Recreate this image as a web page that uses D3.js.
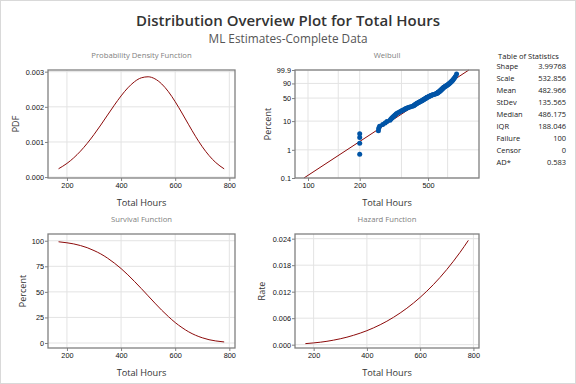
<!DOCTYPE html>
<html>
<head>
<meta charset="utf-8">
<script src="https://cdn.jsdelivr.net/npm/d3@7"></script>
<style>
body { margin: 0; background: #fff; }
svg { display: block; font-family: "Segoe UI", "Open Sans", sans-serif; }
</style>
</head>
<body>
<svg id="chart" width="576" height="384"></svg>
<script>
// fitted curves at regular hours
var curveHours = [169, 200, 225, 250, 275, 300, 325, 350, 375, 400, 425, 450, 475,
    500, 525, 550, 575, 600, 625, 650, 675, 700, 725, 750, 781];
var pdfValues = [0.000237, 0.000389, 0.000547, 0.000738, 0.000961, 0.001211, 0.001482,
    0.001765, 0.002046, 0.002310, 0.002540, 0.002717, 0.002826, 0.002855, 0.002797,
    0.002652, 0.002430, 0.002146, 0.001824, 0.001488, 0.001161, 0.000865, 0.000614,
    0.000413, 0.000234];
var survivalPct = [99.0, 98.0, 96.9, 95.3, 93.2, 90.4, 87.1, 83.0, 78.2, 72.8, 66.7, 60.1,
    53.2, 46.1, 39.0, 32.1, 25.8, 20.0, 15.1, 10.9, 7.6, 5.1, 3.2, 2.0, 1.0];
var hazardRate = [0.00024, 0.00040, 0.00056, 0.00077, 0.00103, 0.00134, 0.00170, 0.00213,
    0.00262, 0.00317, 0.00381, 0.00452, 0.00531, 0.00620, 0.00718, 0.00825, 0.00943,
    0.01071, 0.01211, 0.01362, 0.01525, 0.01701, 0.01890, 0.02092, 0.02362];

// the 100 failure times (sorted), estimated from the probability plot
var failureHours = [200, 200, 200, 200, 257, 258, 261, 272, 281, 288,
    300, 304, 308, 312, 316, 320, 324, 327, 332, 339,
    345, 351, 356, 362, 367, 372, 378, 384, 392, 401,
    409, 414, 417, 421, 425, 428, 432, 437, 441, 445,
    450, 455, 459, 463, 466, 470, 474, 478, 482, 485,
    488, 491, 495, 500, 505, 510, 515, 520, 524, 531,
    539, 547, 554, 561, 565, 568, 571, 575, 578, 582,
    585, 588, 591, 593, 596, 599, 602, 605, 608, 611,
    613, 618, 623, 628, 633, 639, 645, 651, 657, 662,
    667, 673, 679, 685, 691, 698, 704, 712, 721, 733];

// ends of the fitted Weibull line on the probability plot
var fitHours = [94.7, 864.4];
var fitPct = [0.1, 99.9];

var statNames = ["Shape", "Scale", "Mean", "StDev", "Median", "IQR", "Failure", "Censor", "AD*"];
var statValues = ["3.99768", "532.856", "482.966", "135.565", "486.175", "188.046", "100", "0", "0.583"];

var hourTicks = [200, 400, 600, 800];
var pdfTicks = [0, 0.001, 0.002, 0.003];
var survTicks = [0, 25, 50, 75, 100];
var hazTicks = [0, 0.006, 0.012, 0.018, 0.024];
var wblXTicks = [100, 200, 500];
var wblXGrid = [100, 150, 200, 350, 500, 650];
var wblYTicks = [0.1, 1, 10, 50, 90, 99.9];

var svg = d3.select("#chart");
var red = "#8c0a0a", blue = "#0054a6";

svg.append("rect").attr("x", 0.5).attr("y", 0.5).attr("width", 575).attr("height", 383)
    .attr("fill", "#fff").attr("stroke", "#d9d9d9");

svg.append("text").attr("x", 288).attr("y", 26).attr("text-anchor", "middle")
    .attr("font-size", 15).attr("font-weight", 600).attr("fill", "#333")
    .text("Distribution Overview Plot for Total Hours");
svg.append("text").attr("x", 288).attr("y", 43).attr("text-anchor", "middle")
    .attr("font-size", 11.8).attr("fill", "#555")
    .text("ML Estimates-Complete Data");

function panel(o) {
    var g = svg.append("g");
    var x0 = o.x.range()[0], x1 = o.x.range()[1];
    var yb = o.y.range()[0], yt = o.y.range()[1];

    g.selectAll(".gx").data(o.xGrid).enter().append("line")
        .attr("x1", d => o.x(d)).attr("x2", d => o.x(d)).attr("y1", yt).attr("y2", yb)
        .attr("stroke", "#e3e3e3");
    g.selectAll(".gy").data(o.yGrid).enter().append("line")
        .attr("y1", d => o.y(d)).attr("y2", d => o.y(d)).attr("x1", x0).attr("x2", x1)
        .attr("stroke", "#e3e3e3");

    var ax = g.append("g").attr("transform", "translate(0," + yb + ")")
        .call(d3.axisBottom(o.x).tickValues(o.xTicks).tickFormat(o.xFmt).tickSize(3).tickPadding(2));
    var ay = g.append("g").attr("transform", "translate(" + x0 + ",0)")
        .call(d3.axisLeft(o.y).tickValues(o.yTicks).tickFormat(o.yFmt).tickSize(3).tickPadding(1));
    [ax, ay].forEach(function (a) {
        a.select(".domain").remove();
        a.selectAll("line").attr("stroke", "#808080");
        a.selectAll("text").attr("font-size", 7.3).attr("fill", "#111").attr("font-family", null);
    });

    o.draw(g);

    g.append("rect").attr("x", x0).attr("y", yt).attr("width", x1 - x0).attr("height", yb - yt)
        .attr("fill", "none").attr("stroke", "#808080").attr("stroke-width", 1.3);

    g.append("text").attr("x", (x0 + x1) / 2).attr("y", yt - 12).attr("text-anchor", "middle")
        .attr("font-size", 7.7).attr("fill", "#808080").text(o.title);
    g.append("text").attr("x", (x0 + x1) / 2).attr("y", yb + 28).attr("text-anchor", "middle")
        .attr("font-size", 9.2).attr("fill", "#333").text("Total Hours");
    g.append("text").attr("transform", "translate(" + (x0 - o.ylabOff) + "," + (yt + yb) / 2 + ") rotate(-90)")
        .attr("text-anchor", "middle").attr("dy", "0.35em")
        .attr("font-size", 9).attr("fill", "#333").text(o.ylab);
}

function fitCurve(g, x, y, vals) {
    g.append("path").datum(curveHours)
        .attr("d", d3.line().x(d => x(d)).y((d, i) => y(vals[i])).curve(d3.curveMonotoneX))
        .attr("fill", "none").attr("stroke", red).attr("stroke-width", 1);
}

var xL = d3.scaleLinear().domain([130, 821]).range([48, 235]);
var xR = d3.scaleLinear().domain([130, 821]).range([295, 479]);

// PDF
var yPdf = d3.scaleLinear().domain([-0.000026, 0.003048]).range([178, 70]);
panel({
    x: xL, y: yPdf, xTicks: hourTicks, xGrid: hourTicks, yTicks: pdfTicks, yGrid: pdfTicks,
    xFmt: d3.format("d"), yFmt: d3.format(".3f"),
    title: "Probability Density Function", ylab: "PDF", ylabOff: 32,
    draw: g => fitCurve(g, xL, yPdf, pdfValues)
});

// Weibull probability plot
var u = p => Math.log(-Math.log(1 - p / 100));
var xW = d3.scaleLog().domain([84, 990]).range([295, 479]);
var yW = d3.scaleLinear().domain([u(0.1), u(99.9)]).range([178, 70]);
var n = failureHours.length;
panel({
    x: xW, y: yW, xTicks: wblXTicks, xGrid: wblXGrid,
    yTicks: wblYTicks.map(u), yGrid: wblYTicks.map(u),
    xFmt: d3.format("d"), yFmt: (d, i) => wblYTicks[i],
    title: "Weibull", ylab: "Percent", ylabOff: 27,
    draw: function (g) {
        g.append("path").datum(fitHours)
            .attr("d", d3.line().x(d => xW(d)).y((d, i) => yW(u(fitPct[i]))))
            .attr("stroke", red).attr("stroke-width", 1).attr("fill", "none");
        g.selectAll("circle").data(failureHours).enter().append("circle")
            .attr("cx", d => xW(d))
            .attr("cy", (d, i) => yW(u((i + 1 - 0.3) / (n + 0.4) * 100)))
            .attr("r", 2.5).attr("fill", blue);
    }
});

// Survival
var ySurv = d3.scaleLinear().domain([-4.9, 106.6]).range([348, 234]);
panel({
    x: xL, y: ySurv, xTicks: hourTicks, xGrid: hourTicks, yTicks: survTicks, yGrid: survTicks,
    xFmt: d3.format("d"), yFmt: d3.format("d"),
    title: "Survival Function", ylab: "Percent", ylabOff: 25,
    draw: g => fitCurve(g, xL, ySurv, survivalPct)
});

// Hazard
var yHaz = d3.scaleLinear().domain([-0.00075, 0.02506]).range([348, 234]);
panel({
    x: xR, y: yHaz, xTicks: hourTicks, xGrid: hourTicks, yTicks: hazTicks, yGrid: hazTicks,
    xFmt: d3.format("d"), yFmt: d3.format(".3f"),
    title: "Hazard Function", ylab: "Rate", ylabOff: 33,
    draw: g => fitCurve(g, xR, yHaz, hazardRate)
});

// Table of statistics
var tbl = svg.append("g").attr("font-size", 7.5).attr("fill", "#222");
tbl.append("text").attr("x", 528.5).attr("y", 58.5).attr("text-anchor", "middle").text("Table of Statistics");
tbl.selectAll(".nm").data(statNames).enter().append("text")
    .attr("x", 496.5).attr("y", (d, i) => 68.5 + i * 12.08).text(d => d);
tbl.selectAll(".vl").data(statValues).enter().append("text")
    .attr("x", 566).attr("y", (d, i) => 68.5 + i * 12.08).attr("text-anchor", "end").text(d => d);
</script>
</body>
</html>
